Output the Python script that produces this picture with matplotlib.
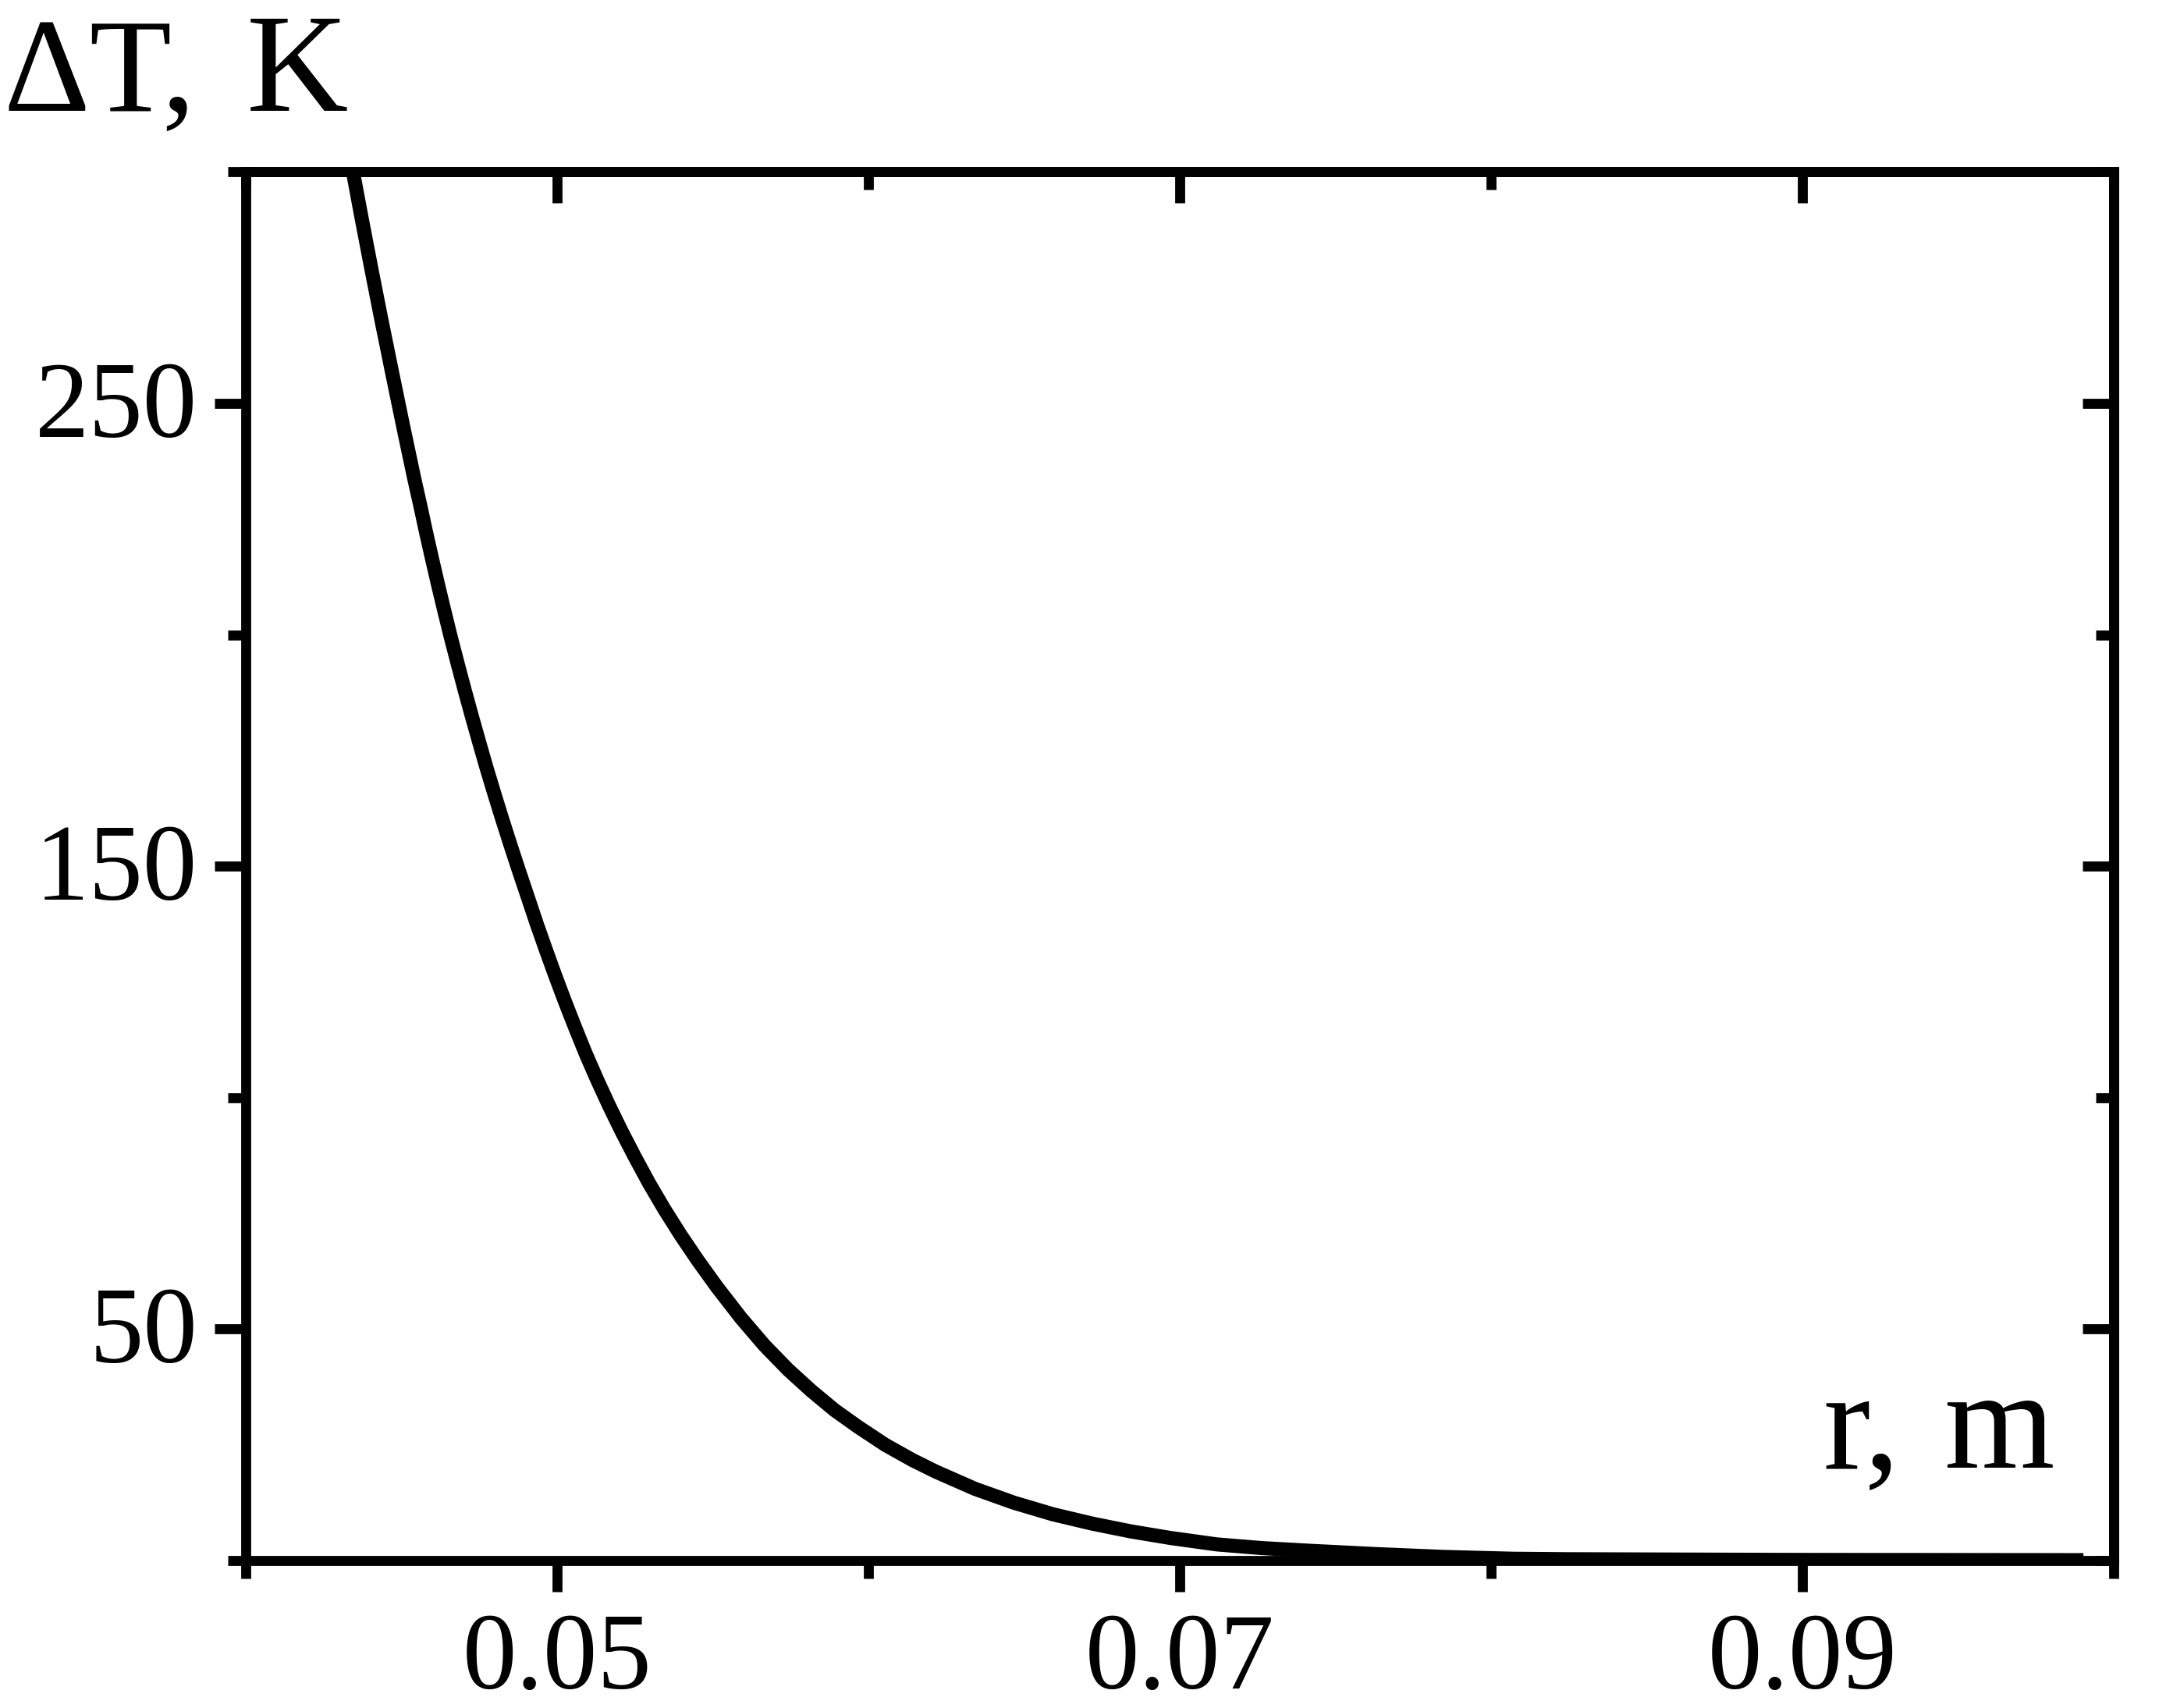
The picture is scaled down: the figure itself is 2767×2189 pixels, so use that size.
import matplotlib
matplotlib.use("Agg")
import matplotlib.pyplot as plt
import matplotlib.transforms as mtransforms
from matplotlib.ticker import FixedLocator

plt.rcParams['font.family'] = ['Liberation Serif', 'DejaVu Serif']
plt.rcParams['axes.linewidth'] = 9.2

# Curve (r in m, dT in K)
r_vals = [0.043434, 0.043712, 0.044035, 0.044363, 0.044702, 0.045048,
          0.045401, 0.045607, 0.045787, 0.045975, 0.046168, 0.046368,
          0.046576, 0.046792, 0.047013, 0.047241, 0.047476, 0.047719,
          0.047970, 0.048228, 0.048494, 0.048767, 0.049048, 0.049331,
          0.049624, 0.049925, 0.050238, 0.050564, 0.050907, 0.051271,
          0.051654, 0.052060, 0.052491, 0.052950, 0.053439, 0.053965,
          0.054529, 0.055130, 0.055902, 0.056654, 0.057406, 0.058158,
          0.058910, 0.059662, 0.060539, 0.061416, 0.062168, 0.063421,
          0.064674, 0.065927, 0.067180, 0.068434, 0.069687, 0.071190,
          0.072644, 0.074241, 0.076328, 0.078459, 0.080714, 0.082419,
          0.089737, 0.099035]
dT_vals = [300.0, 290.0, 278.7, 267.5, 256.3, 245.0,
           233.8, 227.6, 222.0, 216.4, 210.8, 205.2,
           199.5, 193.9, 188.3, 182.7, 177.1, 171.4,
           165.8, 160.2, 154.6, 149.0, 143.4, 137.7,
           132.1, 126.5, 120.9, 115.3, 109.6, 104.0,
           98.4, 92.8, 87.2, 81.5, 75.9, 70.3,
           64.7, 59.1, 52.4, 46.5, 41.3, 36.7,
           32.5, 28.9, 25.0, 21.7, 19.2, 15.5,
           12.5, 10.0, 8.0, 6.3, 4.9, 3.5,
           2.7, 2.1, 1.4, 0.8, 0.4, 0.3,
           0.15, 0.1]

x_major = [0.05, 0.07, 0.09]
x_minor = [0.04, 0.06, 0.08, 0.10]
x_labels = ['0.05', '0.07', '0.09']
y_major = [50, 150, 250]
y_minor = [0, 100, 200, 300]
y_labels = ['50', '150', '250']

fig = plt.figure(figsize=(27.67, 21.89), dpi=100)
ax = fig.add_axes([0.1140, 0.0863, 0.8649, 0.8130])

ax.plot(r_vals, dT_vals, color='black', linewidth=13, solid_capstyle='butt')

ax.set_xlim(0.04, 0.10)
ax.set_ylim(0, 300)

ax.set_xticks(x_major)
ax.set_xticklabels(x_labels)
ax.xaxis.set_minor_locator(FixedLocator(x_minor))
ax.set_yticks(y_major)
ax.set_yticklabels(y_labels)
ax.yaxis.set_minor_locator(FixedLocator(y_minor))

ax.tick_params(which='both', direction='out', width=9.2, top=False, right=False)
ax.tick_params(which='major', length=29)
ax.tick_params(which='minor', length=16.5)
ax.tick_params(axis='x', which='major', labelsize=100, pad=19.5)
ax.tick_params(axis='y', which='major', labelsize=100, pad=16)

# nudge y labels up a little
shift = mtransforms.ScaledTranslation(0, 0.06, fig.dpi_scale_trans)
for lab in ax.get_yticklabels():
    lab.set_transform(lab.get_transform() + shift)

# top and right ticks point inward
top = ax.secondary_xaxis('top')
top.set_xticks(x_major)
top.xaxis.set_minor_locator(FixedLocator(x_minor))
top.tick_params(which='both', direction='in', width=9.2, labeltop=False)
top.tick_params(which='major', length=29)
top.tick_params(which='minor', length=16.5)
top.spines['top'].set_linewidth(9.2)

right = ax.secondary_yaxis('right')
right.set_yticks(y_major)
right.yaxis.set_minor_locator(FixedLocator(y_minor))
right.tick_params(which='both', direction='in', width=9.2, labelright=False)
right.tick_params(which='major', length=29)
right.tick_params(which='minor', length=16.5)
right.spines['right'].set_linewidth(9.2)

# axis captions
fig.text(0.0018, 0.9353, 'ΔT,', fontsize=124, ha='left', va='baseline')
fig.text(0.1140, 0.9353, 'K', fontsize=130, ha='left', va='baseline')
fig.text(0.8442, 0.1407, 'r,', fontsize=131, ha='left', va='baseline')
fig.text(0.9516, 0.1407, 'm', fontsize=131, ha='right', va='baseline')

fig.savefig('out.png', dpi=100, facecolor='white')
